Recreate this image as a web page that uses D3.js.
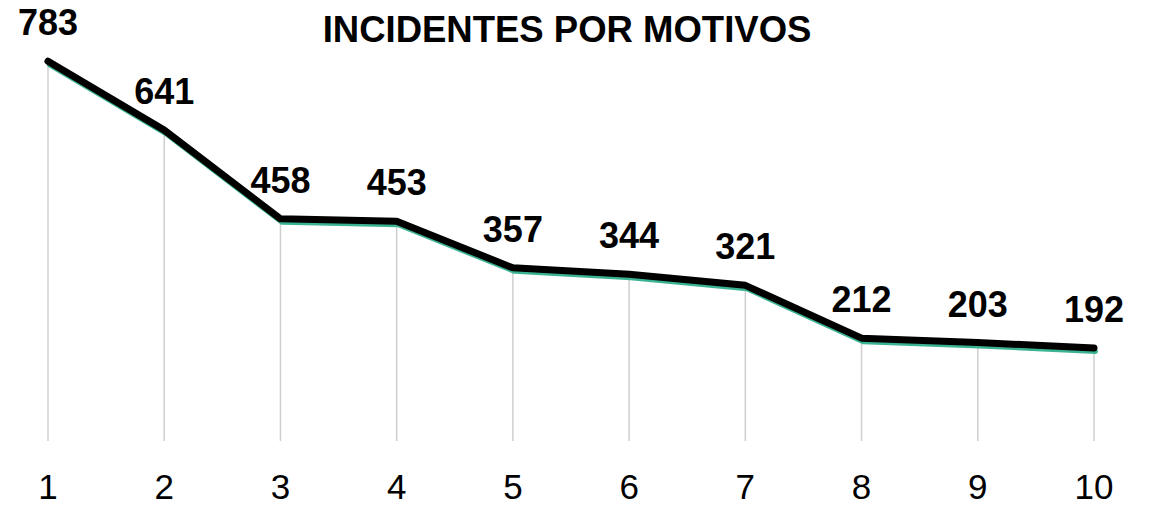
<!DOCTYPE html>
<html>
<head>
<meta charset="utf-8">
<script src="https://cdn.jsdelivr.net/npm/d3@7"></script>
<style>
  body { margin: 0; background: #fff; }
  text { font-family: "Liberation Sans", Arial, sans-serif; }
</style>
</head>
<body>
<svg id="chart"></svg>
<script>
'use strict'

const chartWidth = 1149,
      chartHeight = 507

const title = "INCIDENTES POR MOTIVOS"
const categories = ["1", "2", "3", "4", "5", "6", "7", "8", "9", "10"]
const values = [783, 641, 458, 453, 357, 344, 321, 212, 203, 192]

const svg = d3.select("#chart")
  .attr("width", chartWidth)
  .attr("height", chartHeight)

const x = d3.scalePoint()
  .domain(categories)
  .range([48, 1094])

const y = d3.scaleLinear()
  .domain([0, 800])
  .range([441, 53])

const points = categories.map((c, i) => ({ cat: c, value: values[i] }))

// title
svg.append("text")
  .attr("x", 567)
  .attr("y", 42)
  .attr("text-anchor", "middle")
  .attr("font-size", 36.5)
  .attr("font-weight", "bold")
  .text(title)

// drop lines from each point to the baseline
svg.append("g")
  .selectAll("line")
  .data(points)
  .enter().append("line")
    .attr("x1", d => x(d.cat))
    .attr("x2", d => x(d.cat))
    .attr("y1", d => y(d.value))
    .attr("y2", y(0))
    .attr("stroke", "#cfcfcf")
    .attr("stroke-width", 1.5)

const line = d3.line()
  .x(d => x(d.cat))
  .y(d => y(d.value))

// teal line slightly offset underneath (shadow look)
svg.append("path")
  .datum(points)
  .attr("d", line)
  .attr("transform", "translate(1.5,3.5)")
  .attr("fill", "none")
  .attr("stroke", "#3bb393")
  .attr("stroke-width", 5)
  .attr("stroke-linejoin", "round")
  .attr("stroke-linecap", "round")

// main black line
svg.append("path")
  .datum(points)
  .attr("d", line)
  .attr("fill", "none")
  .attr("stroke", "#000")
  .attr("stroke-width", 7)
  .attr("stroke-linejoin", "round")
  .attr("stroke-linecap", "round")

// value labels
svg.append("g")
  .selectAll("text")
  .data(points)
  .enter().append("text")
    .attr("x", d => x(d.cat))
    .attr("y", d => y(d.value) - 26)
    .attr("text-anchor", "middle")
    .attr("font-size", 36)
    .attr("font-weight", "bold")
    .text(d => d.value)

// category labels
svg.append("g")
  .selectAll("text")
  .data(categories)
  .enter().append("text")
    .attr("x", d => x(d))
    .attr("y", 499)
    .attr("text-anchor", "middle")
    .attr("font-size", 35)
    .text(d => d)
</script>
</body>
</html>
